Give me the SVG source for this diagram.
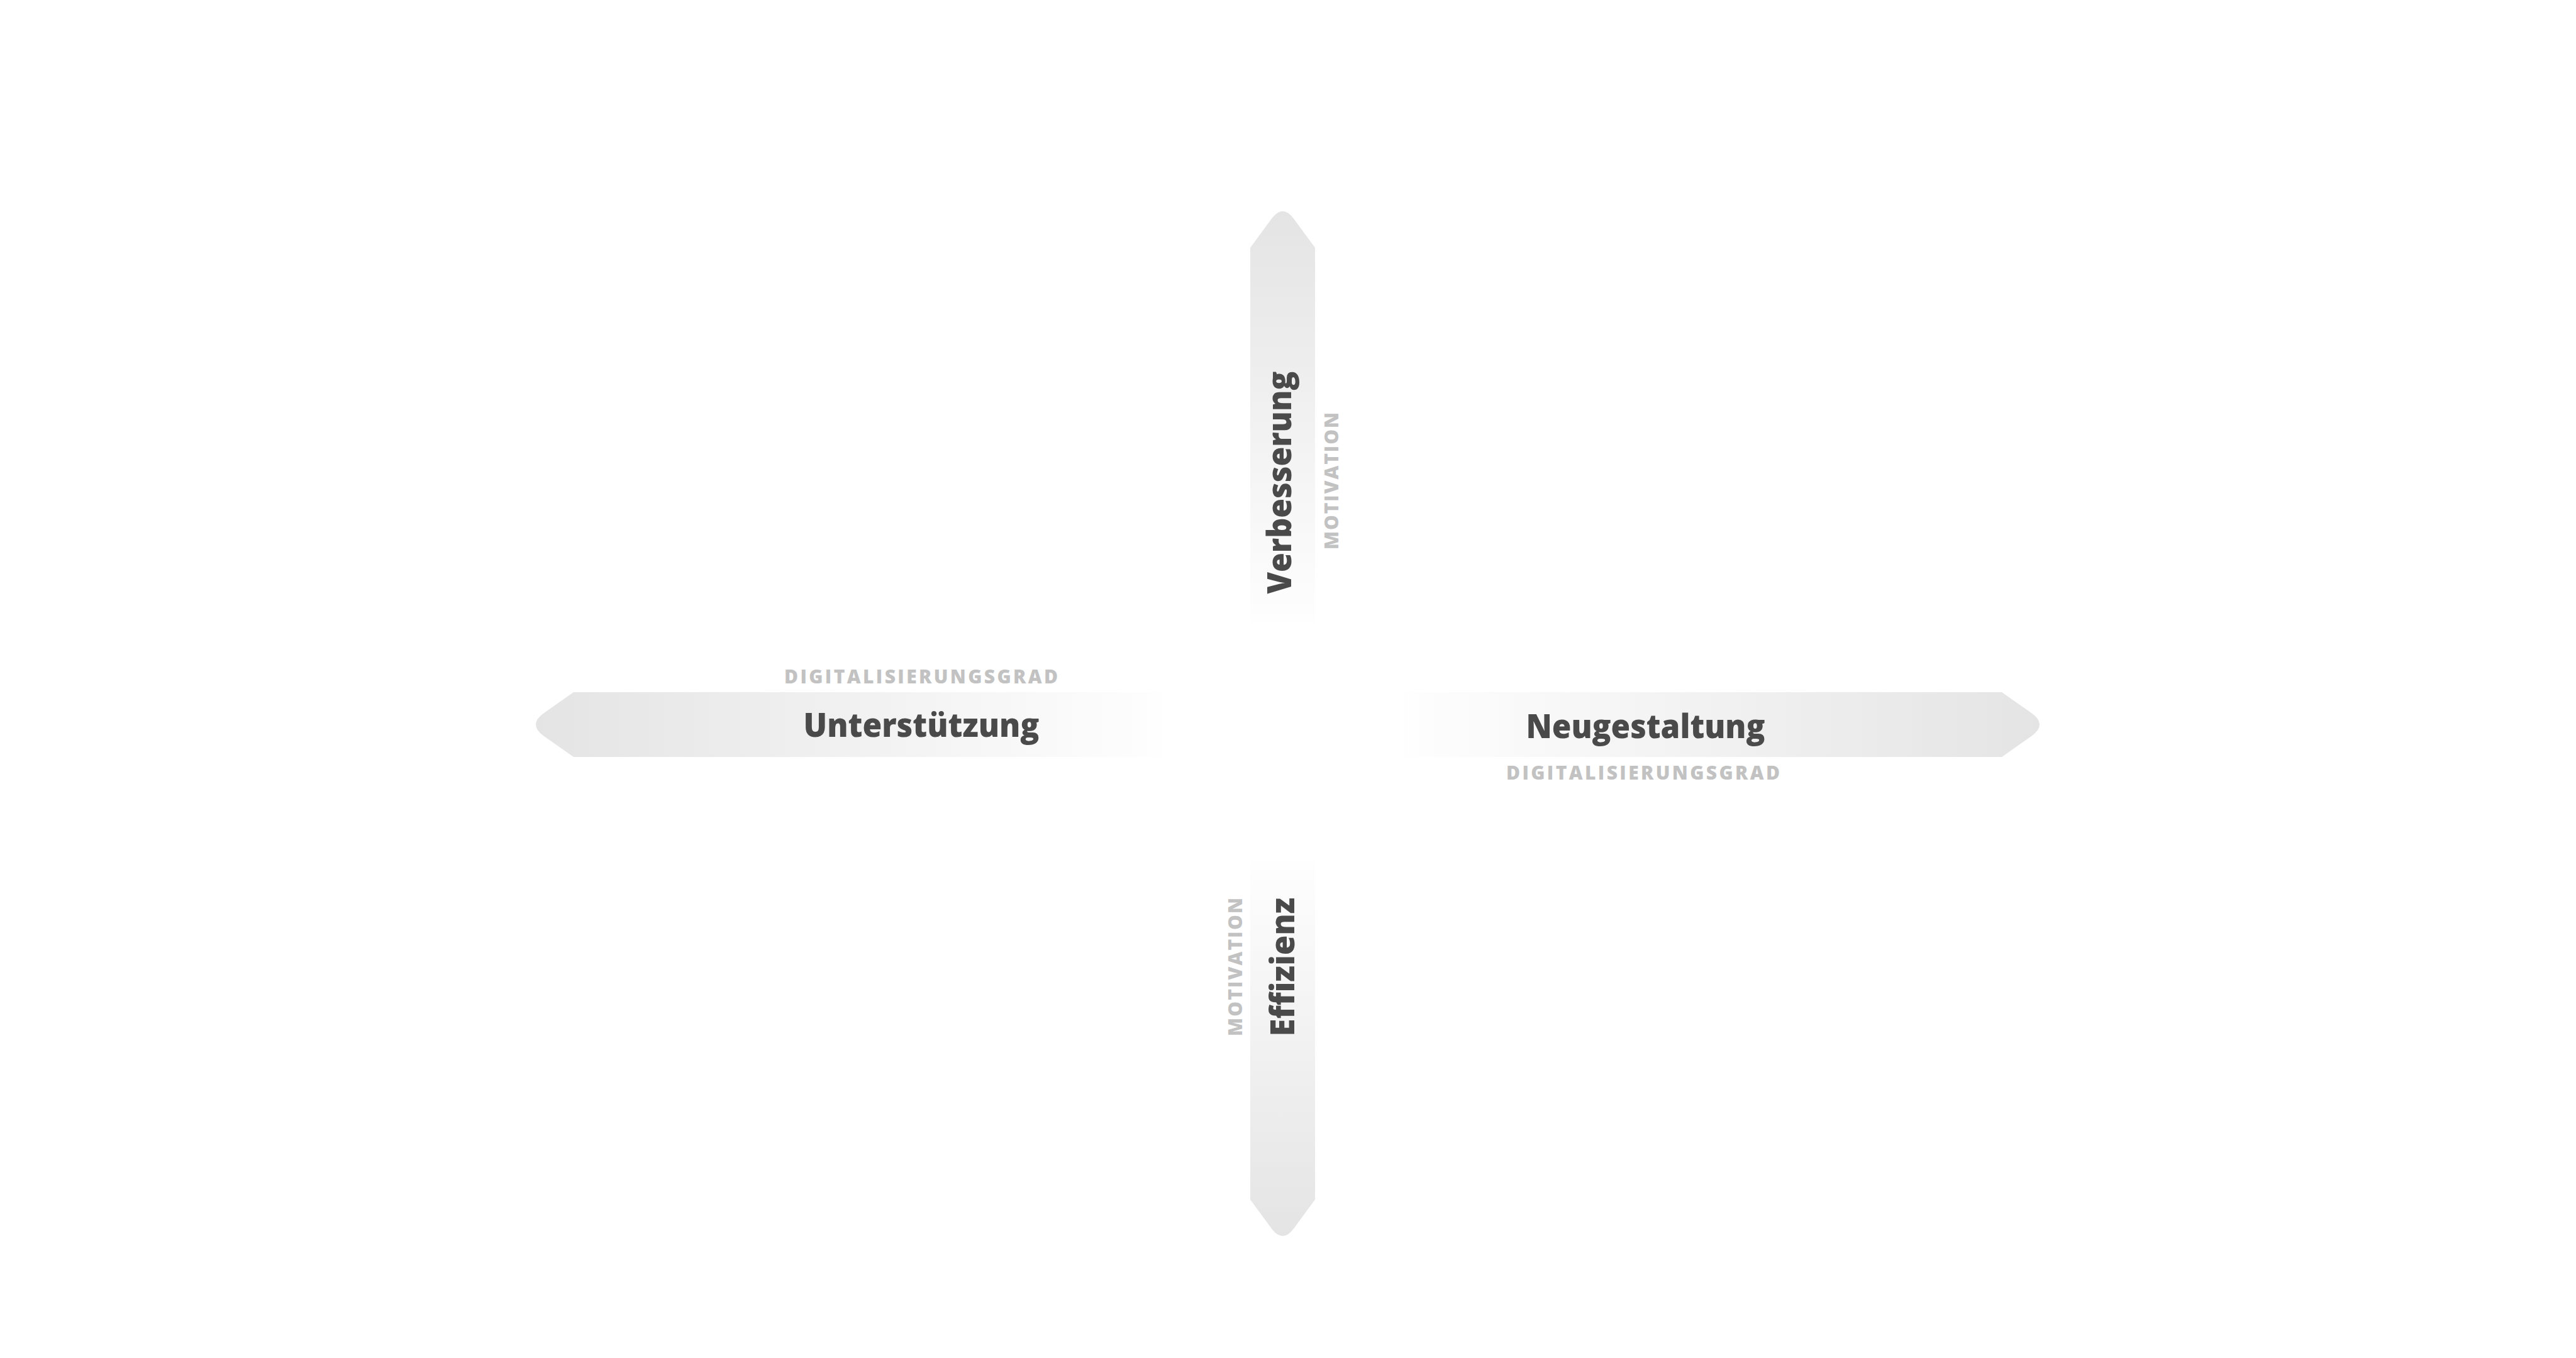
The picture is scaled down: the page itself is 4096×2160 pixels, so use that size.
<svg xmlns="http://www.w3.org/2000/svg" width="4096" height="2160" viewBox="0 0 4096 2160">
  <style>
    .lbl { font-family: 'Open Sans', 'Liberation Sans', sans-serif; font-weight: 800; font-size: 53px; fill: #4a4a4a; text-anchor: middle; }
    .sub { font-family: 'Open Sans', 'Liberation Sans', sans-serif; font-weight: 800; font-size: 30px; fill: #c2c2c2; text-anchor: middle; }
  </style>
  <defs>
    <linearGradient id="gTop" gradientUnits="userSpaceOnUse" x1="0" y1="337" x2="0" y2="990">
      <stop offset="0" stop-color="#e4e4e4"/>
      <stop offset="1" stop-color="#fefefe"/>
    </linearGradient>
    <linearGradient id="gBottom" gradientUnits="userSpaceOnUse" x1="0" y1="1370" x2="0" y2="1966">
      <stop offset="0" stop-color="#fefefe"/>
      <stop offset="1" stop-color="#e4e4e4"/>
    </linearGradient>
    <linearGradient id="gLeft" gradientUnits="userSpaceOnUse" x1="852" y1="0" x2="1848" y2="0">
      <stop offset="0" stop-color="#e4e4e4"/>
      <stop offset="1" stop-color="#fefefe"/>
    </linearGradient>
    <linearGradient id="gRight" gradientUnits="userSpaceOnUse" x1="2233" y1="0" x2="3243" y2="0">
      <stop offset="0" stop-color="#fefefe"/>
      <stop offset="1" stop-color="#e4e4e4"/>
    </linearGradient>
  </defs>
  <rect width="4096" height="2160" fill="#ffffff"/>

  <g id="node-verbesserung">
    <path d="M1988,990 L1988,394 L2021.8,348 Q2039.5,324 2057.2,348 L2091,394 L2091,990 Z" fill="url(#gTop)"/>
    <text class="lbl" transform="translate(2053,767.5) rotate(-90)" textLength="354" lengthAdjust="spacingAndGlyphs">Verbesserung</text>
    <text class="sub" transform="translate(2128,765) rotate(-90)" textLength="218" lengthAdjust="spacing">MOTIVATION</text>
  </g>

  <g id="node-effizienz">
    <path d="M1988,1370 L1988,1908 L2021.8,1954 Q2039.5,1978 2057.2,1954 L2091,1908 L2091,1370 Z" fill="url(#gBottom)"/>
    <text class="lbl" transform="translate(2058,1538) rotate(-90)" textLength="221" lengthAdjust="spacingAndGlyphs">Effizienz</text>
    <text class="sub" transform="translate(1975,1538) rotate(-90)" textLength="220" lengthAdjust="spacing">MOTIVATION</text>
  </g>

  <g id="node-unterstuetzung">
    <path d="M1848,1101 L912,1101 L864,1134.8 Q840,1152.5 864,1170.2 L912,1204 L1848,1204 Z" fill="url(#gLeft)"/>
    <text class="sub" x="1464.5" y="1087" textLength="435" lengthAdjust="spacing">DIGITALISIERUNGSGRAD</text>
    <text class="lbl" x="1465" y="1172" textLength="375" lengthAdjust="spacingAndGlyphs">Unterstützung</text>
  </g>

  <g id="node-neugestaltung">
    <path d="M2233,1101 L3183,1101 L3231,1134.8 Q3255,1152.5 3231,1170.2 L3183,1204 L2233,1204 Z" fill="url(#gRight)"/>
    <text class="lbl" x="2616.5" y="1174" textLength="380" lengthAdjust="spacingAndGlyphs">Neugestaltung</text>
    <text class="sub" x="2612.5" y="1240" textLength="435" lengthAdjust="spacing">DIGITALISIERUNGSGRAD</text>
  </g>
</svg>
